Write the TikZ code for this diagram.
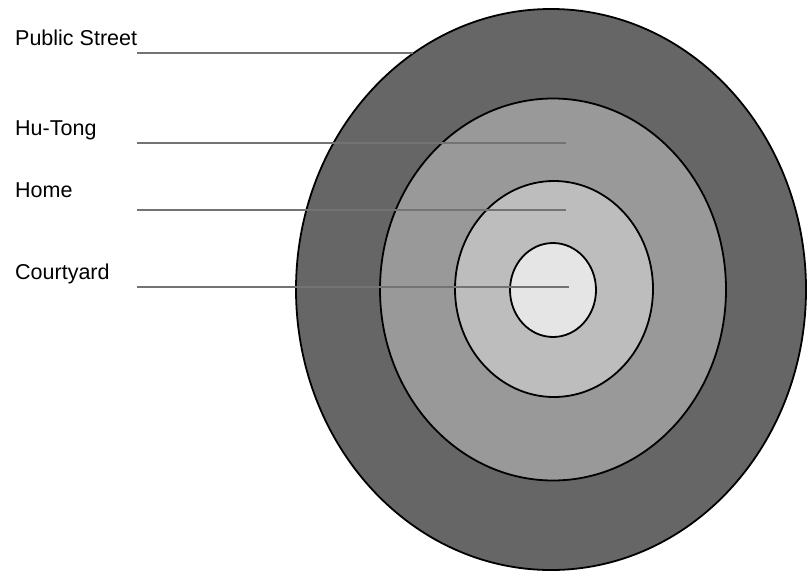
\documentclass[tikz,border=0pt]{standalone}
\usepackage{fontspec}
\setmainfont{Liberation Sans}
\usepackage{tikz}
\usetikzlibrary{positioning,shapes.geometric}
\definecolor{streetGray}{gray}{0.40}
\definecolor{hutongGray}{gray}{0.60}
\definecolor{homeGray}{gray}{0.74}
\definecolor{courtGray}{gray}{0.90}
\definecolor{leaderGray}{gray}{0.45}

\begin{document}
\begin{tikzpicture}[x=1pt,y=-1pt,
    ring/.style={ellipse,draw=black,line width=1.8pt,inner sep=0pt,outer sep=0pt},
    lbl/.style={anchor=base west,inner sep=0pt,font=\fontsize{21.5}{26}\selectfont},
    leader/.style={draw=leaderGray,line width=1.5pt}]
\useasboundingbox (0,0) rectangle (810,573);
% rings, outside in
\node[ring,fill=streetGray,minimum width=510pt,minimum height=561pt] (street) at (551,289.5) {};
\node[ring,fill=hutongGray,minimum width=346pt,minimum height=382pt] (hutong) at (553,289.5) {};
\node[ring,fill=homeGray,minimum width=198pt,minimum height=216pt] (home) at (554,289) {};
\node[ring,fill=courtGray,minimum width=86pt,minimum height=94pt] (court) at (553,290) {};
% labels
\node[lbl] (lblStreet) at (15,45.7) {Public Street};
\node[lbl] (lblHutong) at (15,135) {Hu-Tong};
\node[lbl] (lblHome) at (15,197) {Home};
\node[lbl] (lblCourt) at (15,279) {Courtyard};
% leader lines
\coordinate (sStreet) at (137,53);
\coordinate (eStreet) at (413,53);
\coordinate (sHutong) at (137,143);
\coordinate (eHutong) at (566,143);
\coordinate (sHome) at (137,210);
\coordinate (eHome) at (566,210);
\coordinate (sCourt) at (137,287);
\coordinate (eCourt) at (569,287);
\draw[leader] (sStreet) -- (eStreet);
\draw[leader] (sHutong) -- (eHutong);
\draw[leader] (sHome) -- (eHome);
\draw[leader] (sCourt) -- (eCourt);
\end{tikzpicture}
\end{document}
